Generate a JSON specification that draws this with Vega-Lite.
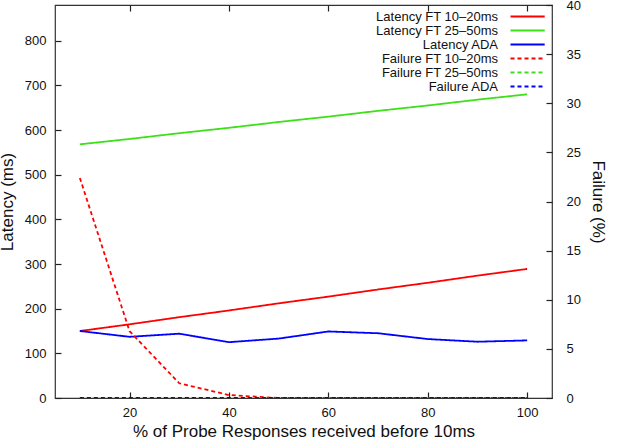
{
  "$schema": "https://vega.github.io/schema/vega-lite/v6.json",
  "width": 497,
  "height": 393,
  "autosize": "none",
  "padding": {"left": 55, "top": 5, "right": 69, "bottom": 42},
  "config": {
    "view": {"stroke": "#333", "strokeWidth": 1.2},
    "font": "Liberation Sans",
    "axis": {
      "grid": false,
      "domain": false,
      "tickColor": "#222",
      "tickSize": 6,
      "offset": -6,
      "tickWidth": 1.2,
      "labelFont": "Liberation Sans",
      "labelFontSize": 13,
      "labelColor": "#111",
      "titleFont": "Liberation Sans",
      "titleFontSize": 17,
      "titleFontWeight": "normal",
      "titleColor": "#111"
    },
    "legend": {
      "labelFont": "Liberation Sans",
      "labelFontSize": 13,
      "labelColor": "#111"
    }
  },
  "datasets": {
    "latency": [
      {"x": 10, "series": "Latency FT 10–20ms", "value": 150},
      {"x": 20, "series": "Latency FT 10–20ms", "value": 165},
      {"x": 30, "series": "Latency FT 10–20ms", "value": 181},
      {"x": 40, "series": "Latency FT 10–20ms", "value": 196},
      {"x": 50, "series": "Latency FT 10–20ms", "value": 212},
      {"x": 60, "series": "Latency FT 10–20ms", "value": 227},
      {"x": 70, "series": "Latency FT 10–20ms", "value": 243},
      {"x": 80, "series": "Latency FT 10–20ms", "value": 258},
      {"x": 90, "series": "Latency FT 10–20ms", "value": 274},
      {"x": 100, "series": "Latency FT 10–20ms", "value": 289},
      {"x": 10, "series": "Latency FT 25–50ms", "value": 568},
      {"x": 20, "series": "Latency FT 25–50ms", "value": 580},
      {"x": 30, "series": "Latency FT 25–50ms", "value": 593},
      {"x": 40, "series": "Latency FT 25–50ms", "value": 605},
      {"x": 50, "series": "Latency FT 25–50ms", "value": 618},
      {"x": 60, "series": "Latency FT 25–50ms", "value": 630},
      {"x": 70, "series": "Latency FT 25–50ms", "value": 643},
      {"x": 80, "series": "Latency FT 25–50ms", "value": 655},
      {"x": 90, "series": "Latency FT 25–50ms", "value": 668},
      {"x": 100, "series": "Latency FT 25–50ms", "value": 680},
      {"x": 10, "series": "Latency ADA", "value": 150},
      {"x": 20, "series": "Latency ADA", "value": 137},
      {"x": 30, "series": "Latency ADA", "value": 144},
      {"x": 40, "series": "Latency ADA", "value": 125},
      {"x": 50, "series": "Latency ADA", "value": 133},
      {"x": 60, "series": "Latency ADA", "value": 149},
      {"x": 70, "series": "Latency ADA", "value": 145},
      {"x": 80, "series": "Latency ADA", "value": 132},
      {"x": 90, "series": "Latency ADA", "value": 126},
      {"x": 100, "series": "Latency ADA", "value": 129}
    ],
    "failure": [
      {"x": 10, "series": "Failure FT 10–20ms", "value": 22.4},
      {"x": 20, "series": "Failure FT 10–20ms", "value": 6.8},
      {"x": 30, "series": "Failure FT 10–20ms", "value": 1.5},
      {"x": 40, "series": "Failure FT 10–20ms", "value": 0.3},
      {"x": 50, "series": "Failure FT 10–20ms", "value": 0},
      {"x": 60, "series": "Failure FT 10–20ms", "value": 0},
      {"x": 70, "series": "Failure FT 10–20ms", "value": 0},
      {"x": 80, "series": "Failure FT 10–20ms", "value": 0},
      {"x": 90, "series": "Failure FT 10–20ms", "value": 0},
      {"x": 100, "series": "Failure FT 10–20ms", "value": 0},
      {"x": 10, "series": "Failure FT 25–50ms", "value": 0},
      {"x": 20, "series": "Failure FT 25–50ms", "value": 0},
      {"x": 30, "series": "Failure FT 25–50ms", "value": 0},
      {"x": 40, "series": "Failure FT 25–50ms", "value": 0},
      {"x": 50, "series": "Failure FT 25–50ms", "value": 0},
      {"x": 60, "series": "Failure FT 25–50ms", "value": 0},
      {"x": 70, "series": "Failure FT 25–50ms", "value": 0},
      {"x": 80, "series": "Failure FT 25–50ms", "value": 0},
      {"x": 90, "series": "Failure FT 25–50ms", "value": 0},
      {"x": 100, "series": "Failure FT 25–50ms", "value": 0},
      {"x": 10, "series": "Failure ADA", "value": 0},
      {"x": 20, "series": "Failure ADA", "value": 0},
      {"x": 30, "series": "Failure ADA", "value": 0},
      {"x": 40, "series": "Failure ADA", "value": 0},
      {"x": 50, "series": "Failure ADA", "value": 0},
      {"x": 60, "series": "Failure ADA", "value": 0},
      {"x": 70, "series": "Failure ADA", "value": 0},
      {"x": 80, "series": "Failure ADA", "value": 0},
      {"x": 90, "series": "Failure ADA", "value": 0},
      {"x": 100, "series": "Failure ADA", "value": 0}
    ]
  },
  "resolve": {
    "scale": {"y": "independent"},
    "axis": {"x": "independent"}
  },
  "layer": [
    {
      "data": {"name": "latency"},
      "mark": {"type": "line", "strokeWidth": 1.8, "clip": true},
      "encoding": {
        "x": {
          "field": "x", "type": "quantitative",
          "scale": {"domain": [5, 105], "nice": false},
          "axis": {
            "orient": "bottom",
            "values": [20, 40, 60, 80, 100],
            "title": "% of Probe Responses received before 10ms",
            "labelPadding": 8,
            "titlePadding": 4
          }
        },
        "y": {
          "field": "value", "type": "quantitative",
          "scale": {"domain": [0, 880], "nice": false},
          "axis": {
            "orient": "left",
            "values": [0, 100, 200, 300, 400, 500, 600, 700, 800],
            "title": "Latency (ms)",
            "labelPadding": 9,
            "titlePadding": 8
          }
        },
        "color": {
          "field": "series", "type": "nominal",
          "scale": {
            "domain": ["Latency FT 10–20ms", "Latency FT 25–50ms", "Latency ADA", "Failure FT 10–20ms", "Failure FT 25–50ms", "Failure ADA"],
            "range": ["#ff0000", "#3ee01a", "#0000ff", "#ff0000", "#3ee01a", "#0000ff"]
          },
          "legend": {
            "title": null,
            "orient": "none",
            "legendX": 449,
            "legendY": 5,
            "symbolType": "M0,0H7.6",
            "symbolSize": 81,
            "symbolStrokeWidth": 2,
            "labelAlign": "right",
            "labelOffset": -19,
            "rowPadding": 0,
            "labelLimit": 200
          }
        },
        "strokeDash": {
          "field": "series", "type": "nominal",
          "scale": {
            "domain": ["Latency FT 10–20ms", "Latency FT 25–50ms", "Latency ADA", "Failure FT 10–20ms", "Failure FT 25–50ms", "Failure ADA"],
            "range": [[1, 0], [1, 0], [1, 0], [4, 3], [4, 3], [4, 3]]
          },
          "legend": {
            "title": null,
            "orient": "none",
            "legendX": 449,
            "legendY": 5,
            "symbolType": "M0,0H7.6",
            "symbolSize": 81,
            "symbolStrokeWidth": 2,
            "labelAlign": "right",
            "labelOffset": -19,
            "rowPadding": 0,
            "labelLimit": 200
          }
        }
      }
    },
    {
      "data": {"name": "failure"},
      "mark": {"type": "line", "strokeWidth": 1.8, "clip": true},
      "encoding": {
        "x": {
          "field": "x", "type": "quantitative",
          "scale": {"domain": [5, 105], "nice": false},
          "axis": {
            "orient": "top",
            "values": [20, 40, 60, 80, 100],
            "labels": false,
            "title": null
          }
        },
        "y": {
          "field": "value", "type": "quantitative",
          "scale": {"domain": [0, 40], "nice": false},
          "axis": {
            "orient": "right",
            "values": [0, 5, 10, 15, 20, 25, 30, 35, 40],
            "title": "Failure (%)",
            "labelPadding": 14,
            "titlePadding": 8
          }
        },
        "color": {"field": "series", "type": "nominal"},
        "strokeDash": {"field": "series", "type": "nominal"}
      }
    }
  ]
}
